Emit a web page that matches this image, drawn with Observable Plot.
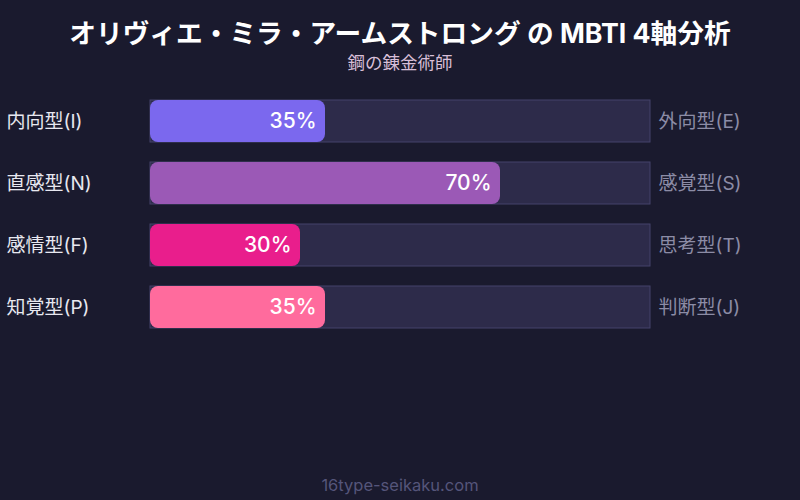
<!DOCTYPE html>
<html><head><meta charset="utf-8">
<script src="https://cdn.jsdelivr.net/npm/d3@7"></script>
<script src="https://cdn.jsdelivr.net/npm/@observablehq/plot@0.6"></script>
<style>
html,body{margin:0;padding:0;background:#1a1a2e;width:800px;height:500px;overflow:hidden;font-family:Inter,"Noto Sans CJK JP",sans-serif;}
#title{color:#ffffff;font-size:26.7px;font-weight:700;text-align:center;line-height:30px;padding-top:18px;}
#sub{color:#d8bfd8;font-size:17.5px;text-align:center;line-height:20px;margin-top:5px;}
#chart{height:387px;}
#foot{color:#55557a;font-size:16.5px;text-align:center;line-height:20px;padding-top:15px;}
svg{display:block;}
</style></head>
<body>
<div id="title">オリヴィエ・ミラ・アームストロング の MBTI 4軸分析</div>
<div id="sub">鋼の錬金術師</div>
<div id="chart"></div>
<div id="foot">16type-seikaku.com</div>
<script>
const leftLabels = ["内向型(I)", "直感型(N)", "感情型(F)", "知覚型(P)"];
const rightLabels = ["外向型(E)", "感覚型(S)", "思考型(T)", "判断型(J)"];
const values = [35, 70, 30, 35];
const colors = ["#7b68ee", "#9b59b6", "#e91e8c", "#ff6b9d"];

const rows = leftLabels.map((l, i) => ({left: l, right: rightLabels[i], value: values[i], color: colors[i]}));

const plot = Plot.plot({
  width: 800,
  height: 387,
  marginLeft: 150,
  marginRight: 150,
  marginTop: 0,
  marginBottom: 0,
  style: {background: "transparent", fontFamily: "Inter, 'Noto Sans CJK JP', sans-serif"},
  x: {domain: [0, 100], range: [150, 650], axis: null},
  y: {domain: leftLabels, range: [27, 255], paddingInner: 20/62, paddingOuter: 0, axis: null},
  marks: [
    Plot.barX(rows, {y: "left", x1: 0, x2: 100, fill: "#2d2b4a", stroke: "#45436a", strokeWidth: 1}),
    Plot.barX(rows, {y: "left", x1: 0, x2: "value", fill: "color", rx: 8}),
    Plot.text(rows, {y: "left", x: "value", text: d => d.value + "%", dx: -9, textAnchor: "end", fill: "#ffffff", fontSize: 21, fontWeight: 500}),
    Plot.text(rows, {y: "left", x: 0, text: "left", dx: -144, textAnchor: "start", fill: "#e8e8f0", fontSize: 19, fontWeight: 400}),
    Plot.text(rows, {y: "left", x: 100, text: "right", dx: 8, textAnchor: "start", fill: "#8c8ca6", fontSize: 19, fontWeight: 400})
  ]
});
document.getElementById("chart").appendChild(plot);
</script>
</body></html>
